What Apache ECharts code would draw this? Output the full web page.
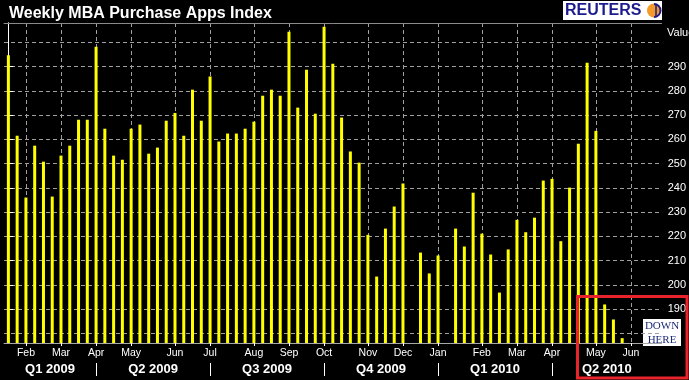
<!DOCTYPE html>
<html><head><meta charset="utf-8">
<script src="https://cdn.jsdelivr.net/npm/echarts@6/dist/echarts.min.js"></script>
<style>html,body{margin:0;padding:0;background:#000}#c{width:689px;height:380px}</style>
</head><body><div id="c"></div>
<script>
// Weekly categories (Friday week-ending dates)
const weeks = [
 '2009-01-23','2009-01-30','2009-02-06','2009-02-13','2009-02-20','2009-02-27',
 '2009-03-06','2009-03-13','2009-03-20','2009-03-27','2009-04-03','2009-04-10',
 '2009-04-17','2009-04-24','2009-05-01','2009-05-08','2009-05-15','2009-05-22',
 '2009-05-29','2009-06-05','2009-06-12','2009-06-19','2009-06-26','2009-07-03',
 '2009-07-10','2009-07-17','2009-07-24','2009-07-31','2009-08-07','2009-08-14',
 '2009-08-21','2009-08-28','2009-09-04','2009-09-11','2009-09-18','2009-09-25',
 '2009-10-02','2009-10-09','2009-10-16','2009-10-23','2009-10-30','2009-11-06',
 '2009-11-13','2009-11-20','2009-11-27','2009-12-04','2009-12-11','2009-12-18',
 '2009-12-25','2010-01-01','2010-01-08','2010-01-15','2010-01-22','2010-01-29',
 '2010-02-05','2010-02-12','2010-02-19','2010-02-26','2010-03-05','2010-03-12',
 '2010-03-19','2010-03-26','2010-04-02','2010-04-09','2010-04-16','2010-04-23',
 '2010-04-30','2010-05-07','2010-05-14','2010-05-21','2010-05-28','2010-06-04',
 '2010-06-11','2010-06-18','2010-06-25'
];
// MBA purchase applications index (null = below visible range / no bar)
const purchaseIndex = [
 294.7,261.5,236.0,257.4,250.8,236.4,253.3,257.4,268.1,268.1,
 298.2,264.4,253.3,251.6,264.4,266.1,254.1,256.6,267.7,270.9,
 261.5,280.5,267.7,285.9,259.1,262.4,262.4,264.4,267.3,278.0,
 280.5,278.0,304.4,273.1,288.7,270.6,306.5,291.2,269.0,255.0,
 250.4,220.6,203.4,223.2,232.3,241.8,null,213.3,204.7,212.1,
 null,223.2,215.8,238.0,221.1,212.5,196.8,214.6,226.8,221.7,
 227.7,243.0,243.7,218.0,240.1,258.2,291.6,263.5,191.9,185.7,
 178.0,null,null,null,null
];
const monthNames = ['Jan','Feb','Mar','Apr','May','Jun','Jul','Aug','Sep','Oct','Nov','Dec'];
const quarterLabels = ['Q1 2009','Q2 2009','Q3 2009','Q4 2009','Q1 2010','Q2 2010'];
const yLabelValues = [190,200,210,220,230,240,250,260,270,280,290];
const yGridValues = [180,190,200,210,220,230,240,250,260,270,280,290,300];
const yMin = 176, yMax = 308;
const yAxisName = 'Value';

const monthOf = d => parseInt(d.slice(5,7),10) - 1;
const monthStarts = [];
for (let i = 1; i < weeks.length; i++) if (monthOf(weeks[i]) !== monthOf(weeks[i-1])) monthStarts.push(i);
const quarterStarts = monthStarts.filter(i => monthOf(weeks[i]) % 3 === 0);
const qBounds = [-0.5].concat(quarterStarts, [weeks.length - 0.5]);
const quarterMids = [];
for (let i = 0; i < qBounds.length - 1; i++) quarterMids.push((qBounds[i] + qBounds[i+1]) / 2);

const FONT = '"Liberation Sans", Arial, sans-serif';
const gridCol = '#a0a0a0';
const xMin = -0.5, xMax = weeks.length - 0.5;

const chart = echarts.init(document.getElementById('c'), null, {renderer:'canvas'});
chart.setOption({
  backgroundColor: '#000',
  animation: false,
  title: {text: 'Weekly MBA Purchase Apps Index', left: 4, top: 1,
    textStyle: {color: '#fff', fontWeight: 'bold', fontSize: 16, fontFamily: FONT}},
  grid: {left: 4, right: 26.5, top: 23, bottom: 37, containLabel: false},
  xAxis: [
    {type: 'category', data: weeks, position: 'bottom', boundaryGap: true,
     axisLine: {show: true, lineStyle: {color: '#a8a8a8', width: 1}},
     axisTick: {show: false}, axisLabel: {show: false}, splitLine: {show: false}},
    {type: 'value', min: xMin, max: xMax, position: 'bottom',
     axisLine: {show: false},
     axisTick: {show: true, customValues: monthStarts, length: 3, lineStyle: {color: '#fff'}},
     axisLabel: {show: true, customValues: monthStarts, margin: 5, color: '#fff', fontSize: 10.5, fontFamily: FONT,
       formatter: v => monthNames[monthOf(weeks[Math.round(v)])]},
     splitLine: {show: true, lineStyle: {color: gridCol, type: [4,3], width: 1}}},
    {type: 'value', min: xMin, max: xMax, position: 'bottom', offset: 20,
     axisLine: {show: false},
     axisTick: {show: true, customValues: quarterStarts, length: 13, lineStyle: {color: '#fff', width: 1}},
     axisLabel: {show: true, customValues: quarterMids, margin: 0, color: '#fff', fontSize: 13, fontWeight: 'bold', fontFamily: FONT,
       formatter: v => { const k = quarterMids.findIndex(m => Math.abs(m - v) < 1e-6); return k >= 0 ? quarterLabels[k] : ''; }},
     splitLine: {show: false}},
    {type: 'value', min: xMin, max: xMax, position: 'top',
     axisLine: {show: true, lineStyle: {color: '#8a8a8a'}},
     axisTick: {show: false}, axisLabel: {show: false}, splitLine: {show: false}}
  ],
  yAxis: [
    {type: 'value', position: 'right', min: yMin, max: yMax,
     axisLine: {show: true, lineStyle: {color: '#fff', width: 1}},
     axisTick: {show: true, customValues: yLabelValues, length: 5, lineStyle: {color: '#fff'}},
     axisLabel: {show: true, customValues: yLabelValues, margin: 6, color: '#fff', fontSize: 11, fontFamily: FONT},
     splitLine: {show: false}},
    {type: 'value', position: 'left', min: yMin, max: yMax,
     axisLine: {show: true, lineStyle: {color: '#fff', width: 1}},
     axisTick: {show: false, customValues: yGridValues}, axisLabel: {show: false, customValues: yGridValues},
     splitLine: {show: true, lineStyle: {color: gridCol, type: [4,3], width: 1}}}
  ],
  series: [{
    type: 'bar', xAxisIndex: 0, yAxisIndex: 0, data: purchaseIndex,
    barWidth: 3, itemStyle: {color: '#ffff00'}, clip: true
  }],
  graphic: [
    {type: 'text', x: 667, y: 33, z: 50, style: {text: yAxisName, font: '11px "Liberation Sans", Arial, sans-serif', fill: '#fff', verticalAlign: 'middle'}},
    {type: 'group', x: 563, y: 1, z: 50, children: [
      {type: 'rect', shape: {x: 0, y: 0, width: 99, height: 19}, style: {fill: '#fff'}},
      {type: 'text', x: 2, y: 10, style: {text: 'REUTERS', font: 'bold 16px "Liberation Sans", Arial, sans-serif', fill: '#1b1b8e', verticalAlign: 'middle'}},
      {type: 'circle', shape: {cx: 91, cy: 9.5, r: 7}, style: {fill: '#f39a2a'}},
      {type: 'arc', shape: {cx: 91, cy: 9.5, r: 6.5, startAngle: -Math.PI/2, endAngle: Math.PI/2}, style: {stroke: '#1b1b8e', lineWidth: 2, fill: 'none'}},
      {type: 'line', shape: {x1: 93, y1: 3, x2: 93, y2: 16}, style: {stroke: '#1b1b8e', lineWidth: 1.5}}
    ]},
    {type: 'rect', z: 60, shape: {x: 577.5, y: 296.5, width: 109.5, height: 81.5}, style: {fill: 'none', stroke: '#e8232c', lineWidth: 3}},
    {type: 'group', x: 643, y: 319, z: 60, children: [
      {type: 'rect', shape: {x: 0, y: 0, width: 38, height: 27}, style: {fill: '#fff'}},
      {type: 'text', x: 19, y: 14, style: {text: 'DOWN\nHERE', font: '11px "Liberation Serif", "Times New Roman", serif', fill: '#1c2a78', align: 'center', verticalAlign: 'middle', lineHeight: 14}}
    ]}
  ]
});
</script></body></html>
